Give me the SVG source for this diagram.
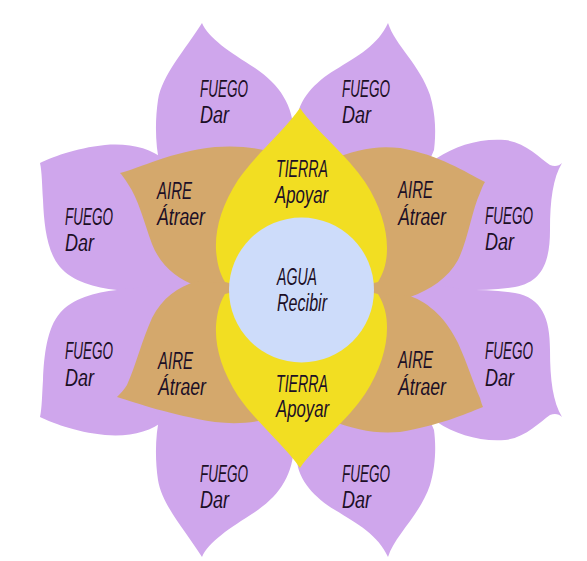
<svg xmlns="http://www.w3.org/2000/svg" width="587" height="561" viewBox="0 0 587 561">
<style>
.fuego{fill:#CFA6EC}
.aire{fill:#D4A86C}
.tierra{fill:#F2DE22}
.agua{fill:#CDDCFA}
text{font-family:"Liberation Sans","DejaVu Sans",sans-serif;font-style:italic;font-size:23px;fill:#1c0f26}
</style>
<rect width="587" height="561" fill="#ffffff"/>
<g id="petals-fuego">
<g id="fuego-top-left">
<path class="fuego" d="M202,23 C208,38 230,52 255,68 C280,85 293,105 294,135 L294,200 L200,240 L160,165 C155,145 155,120 158,100 C162,75 185,50 202,23 Z"/>
<text x="200" y="97" textLength="48" lengthAdjust="spacingAndGlyphs">FUEGO</text>
<text x="200" y="123" textLength="29" lengthAdjust="spacingAndGlyphs">Dar</text>
</g>
<g id="fuego-top-right">
<path class="fuego" d="M388,23 C395,45 420,65 430,95 C436,115 436,135 434,150 L400,230 L300,200 L297,120 C298,100 315,82 335,70 C358,56 378,45 388,23 Z"/>
<text x="342" y="97" textLength="48" lengthAdjust="spacingAndGlyphs">FUEGO</text>
<text x="342" y="123" textLength="29" lengthAdjust="spacingAndGlyphs">Dar</text>
</g>
<g id="fuego-left-upper">
<path class="fuego" d="M40,163 C50,158 75,148 105,145 C130,143 150,148 165,160 L200,200 L200,300 L117,290 C95,288 72,281 60,267 C47,252 44,225 43,200 C42,185 42,172 40,163 Z"/>
<text x="65" y="225" textLength="48" lengthAdjust="spacingAndGlyphs">FUEGO</text>
<text x="65" y="251" textLength="29" lengthAdjust="spacingAndGlyphs">Dar</text>
</g>
<g id="fuego-left-lower">
<path class="fuego" d="M40,417 C50,422 75,432 105,435 C130,437 150,432 165,420 L200,380 L200,280 L117,290 C95,292 72,299 60,313 C47,328 44,355 43,380 C42,395 42,408 40,417 Z"/>
<text x="65" y="359" textLength="48" lengthAdjust="spacingAndGlyphs">FUEGO</text>
<text x="65" y="386" textLength="29" lengthAdjust="spacingAndGlyphs">Dar</text>
</g>
<g id="fuego-right-upper">
<path class="fuego" d="M437,158 C455,146 480,138 505,140 C525,142 540,158 550,165 C555,167 559,166 562,163 C553,178 550,200 550,230 C550,262 542,282 515,287 C497,290 480,290 465,290 L400,302 L405,190 Z"/>
<text x="485" y="224" textLength="48" lengthAdjust="spacingAndGlyphs">FUEGO</text>
<text x="485" y="250" textLength="29" lengthAdjust="spacingAndGlyphs">Dar</text>
</g>
<g id="fuego-right-lower">
<path class="fuego" d="M437,422 C455,434 480,442 505,440 C525,438 540,422 550,415 C555,413 559,414 562,417 C553,402 550,380 550,350 C550,318 542,298 515,293 C497,290 480,290 465,290 L400,278 L405,390 Z"/>
<text x="485" y="359" textLength="48" lengthAdjust="spacingAndGlyphs">FUEGO</text>
<text x="485" y="386" textLength="29" lengthAdjust="spacingAndGlyphs">Dar</text>
</g>
<g id="fuego-bottom-left">
<path class="fuego" d="M202,557 C208,542 230,528 255,512 C280,495 293,475 294,445 L294,380 L200,340 L160,415 C155,435 155,460 158,480 C162,505 185,530 202,557 Z"/>
<text x="200" y="482" textLength="48" lengthAdjust="spacingAndGlyphs">FUEGO</text>
<text x="200" y="508" textLength="29" lengthAdjust="spacingAndGlyphs">Dar</text>
</g>
<g id="fuego-bottom-right">
<path class="fuego" d="M388,557 C395,535 420,515 430,485 C436,465 436,445 434,430 L400,350 L300,380 L297,460 C298,480 315,498 335,510 C358,524 378,535 388,557 Z"/>
<text x="342" y="482" textLength="48" lengthAdjust="spacingAndGlyphs">FUEGO</text>
<text x="342" y="508" textLength="29" lengthAdjust="spacingAndGlyphs">Dar</text>
</g>
</g>
<g id="petals-aire">
<g id="aire-top-left">
<path class="aire" d="M120,173 C140,168 170,152 215,147 C240,145 262,148 280,155 L300,290 L197,286 C178,280 160,265 152,244 C144,222 138,198 128,184 C125,179 122,175 120,173 Z"/>
<text x="157" y="199" textLength="35" lengthAdjust="spacingAndGlyphs">AIRE</text>
<text x="157" y="225" textLength="48" lengthAdjust="spacingAndGlyphs">Átraer</text>
</g>
<g id="aire-top-right">
<path class="aire" d="M485,182 C465,172 440,155 400,148 C375,145 355,150 330,160 L302,290 L410,297 C430,290 448,278 458,260 C468,240 472,210 480,193 C482,188 483,185 485,182 Z"/>
<text x="398" y="198" textLength="35" lengthAdjust="spacingAndGlyphs">AIRE</text>
<text x="398" y="225" textLength="48" lengthAdjust="spacingAndGlyphs">Átraer</text>
</g>
<g id="aire-bottom-left">
<path class="aire" d="M117,397 C137,403 170,415 215,422 C240,425 262,422 280,415 L300,290 L197,281 C178,287 162,298 152,318 C142,340 136,365 127,385 C124,390 120,394 117,397 Z"/>
<text x="158" y="369" textLength="35" lengthAdjust="spacingAndGlyphs">AIRE</text>
<text x="158" y="395" textLength="48" lengthAdjust="spacingAndGlyphs">Átraer</text>
</g>
<g id="aire-bottom-right">
<path class="aire" d="M483,407 C463,415 440,425 400,432 C375,434 355,430 330,420 L302,290 L410,296 C430,303 447,320 458,343 C468,365 474,385 480,398 C481,402 482,405 483,407 Z"/>
<text x="398" y="368" textLength="35" lengthAdjust="spacingAndGlyphs">AIRE</text>
<text x="398" y="395" textLength="48" lengthAdjust="spacingAndGlyphs">Átraer</text>
</g>
</g>
<g id="petals-tierra">
<g id="tierra-top">
<path class="tierra" d="M300,108 C285,130 255,155 238,180 C222,205 215,228 216,250 C217,262 219,272 225,282 L300,300 L378,282 C384,272 387,262 387,248 C387,228 380,205 365,182 C348,156 315,130 300,108 Z"/>
<text x="276" y="177" textLength="52" lengthAdjust="spacingAndGlyphs">TIERRA</text>
<text x="275" y="203" textLength="53" lengthAdjust="spacingAndGlyphs">Apoyar</text>
</g>
<g id="tierra-bottom">
<path class="tierra" d="M300,468 C285,446 255,421 238,396 C222,371 215,348 216,326 C217,314 219,304 225,294 L300,276 L378,294 C384,304 387,314 387,328 C387,348 380,371 365,394 C348,420 315,446 300,468 Z"/>
<text x="276" y="392" textLength="52" lengthAdjust="spacingAndGlyphs">TIERRA</text>
<text x="276" y="417" textLength="53" lengthAdjust="spacingAndGlyphs">Apoyar</text>
</g>
</g>
<g id="agua-center">
<circle class="agua" cx="301.5" cy="290" r="72.5"/>
<text x="277" y="285" textLength="40" lengthAdjust="spacingAndGlyphs">AGUA</text>
<text x="277" y="311" textLength="50" lengthAdjust="spacingAndGlyphs">Recibir</text>
</g>
<g id="connectors"></g>
</svg>
